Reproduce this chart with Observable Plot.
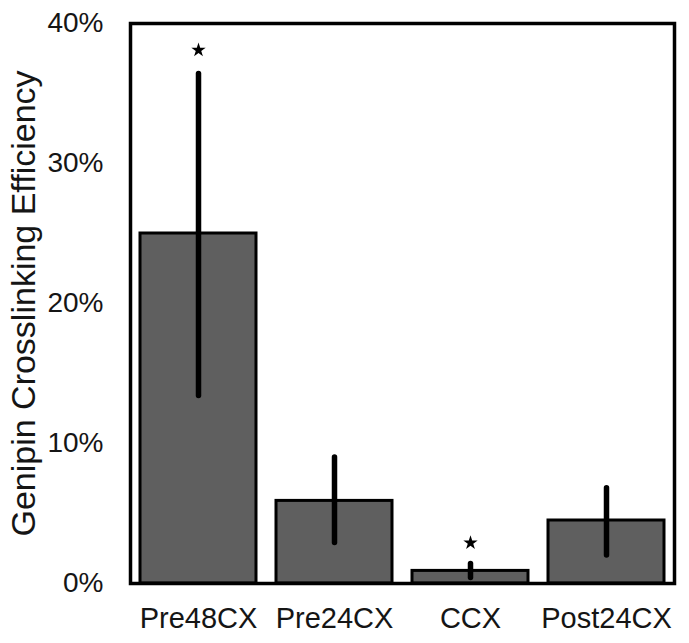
<!DOCTYPE html>
<html>
<head>
<meta charset="utf-8">
<script src="https://cdn.jsdelivr.net/npm/d3@7"></script>
<script src="https://cdn.jsdelivr.net/npm/@observablehq/plot@0.6"></script>
<style>
  html, body { margin: 0; padding: 0; background: #fff; }
</style>
</head>
<body>
<div id="chart"></div>
<script>
const categories = ["Pre48CX", "Pre24CX", "CCX", "Post24CX"];
const means = [0.250, 0.059, 0.009, 0.045];
const errLow = [0.134, 0.029, 0.004, 0.020];
const errHigh = [0.364, 0.090, 0.014, 0.068];
const starValues = [0.381, null, 0.029, null];
const yTicks = [0, 0.1, 0.2, 0.3, 0.4];
const yLabel = "Genipin Crosslinking Efficiency";

const rows = categories.map((c, i) => ({
  cat: c, mean: means[i], lo: errLow[i], hi: errHigh[i], star: starValues[i]
}));
const stars = rows.filter(d => d.star != null);

const chart = Plot.plot({
  width: 689,
  height: 643,
  marginLeft: 130,
  marginRight: 15,
  marginTop: 23,
  marginBottom: 60,
  style: { fontFamily: "Liberation Sans, Arial, sans-serif", color: "#151515", background: "#fff" },
  x: { domain: categories, paddingInner: 0.15, paddingOuter: 0.075, label: null },
  y: { domain: [0, 0.4], label: null },
  marks: [
    Plot.barY(rows, { x: "cat", y: "mean", fill: "#5f5f5f", stroke: "#000", strokeWidth: 3 }),
    Plot.ruleX(rows, { x: "cat", y1: "lo", y2: "hi", stroke: "#000", strokeWidth: 5.5, strokeLinecap: "round" }),
    Plot.dot(stars, { x: "cat", y: "star", symbol: "star", r: 4.5, fill: "#000", stroke: null }),
    Plot.frame({ stroke: "#000", strokeWidth: 3.5 }),
    Plot.axisX({ tickSize: 0, tickPadding: 24, fontSize: 29, label: null }),
    Plot.axisY({ ticks: yTicks, tickFormat: d3.format(".0%"), tickSize: 0, tickPadding: 27, fontSize: 28, label: null }),
    Plot.axisY({ ticks: [], label: yLabel, labelAnchor: "center", labelArrow: "none", labelOffset: 120, fontSize: 34 })
  ]
});
document.getElementById("chart").appendChild(chart);
</script>
</body>
</html>
